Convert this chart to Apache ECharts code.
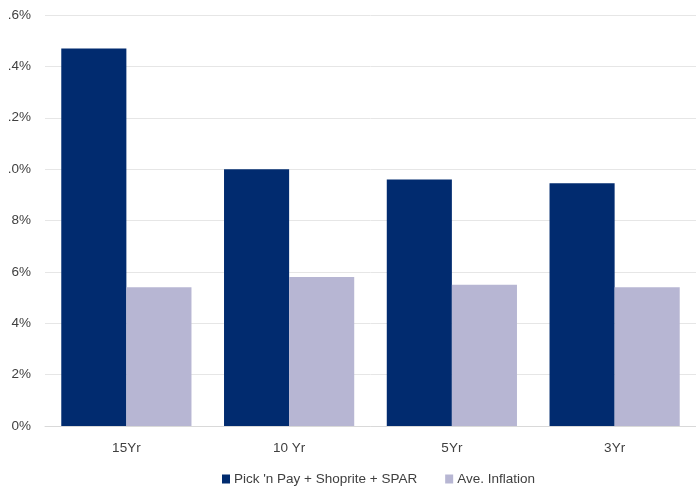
<!DOCTYPE html>
<html>
<head>
<meta charset="utf-8">
<script src="https://cdn.jsdelivr.net/npm/echarts@6/dist/echarts.min.js"></script>
<style>
  html, body { margin: 0; padding: 0; background: #fff; }
  #chart { width: 696px; height: 486px; }
</style>
</head>
<body>
<div id="chart"></div>
<script>
// data
var categories = ['15Yr', '10 Yr', '5Yr', '3Yr'];
var retailers = [14.7, 10.0, 9.6, 9.45];
var inflation = [5.4, 5.8, 5.5, 5.4];
// tick labels as they appear (left digit is cropped in the source)
var tickLabels = ['0%', '2%', '4%', '6%', '8%', '.0%', '.2%', '.4%', '.6%'];

var chart_element = document.getElementById('chart');
if (chart_element) {
    var chart = echarts.init(chart_element);
    chart.setOption({
        color: ['#012b6f', '#b7b6d3'],

        textStyle: {
            fontFamily: 'Liberation Sans, Arial, sans-serif',
            fontSize: 13.5,
            color: '#404040'
        },

        grid: {
            left: 45,
            width: 656,
            top: 15,
            bottom: 60
        },

        legend: {
            left: 217,
            top: 467,
            itemWidth: 8,
            itemHeight: 9,
            itemGap: 28,
            icon: 'rect',
            textStyle: {
                fontSize: 13.5,
                color: '#404040',
                padding: [0, 0, 0, -1]
            },
            data: ['Pick \'n Pay + Shoprite + SPAR', 'Ave. Inflation']
        },

        xAxis: {
            type: 'category',
            data: categories,
            axisLine: { lineStyle: { color: '#d9d9d9' } },
            axisTick: { length: 5, lineStyle: { color: '#d9d9d9' } },
            axisLabel: { margin: 15, color: '#404040', fontSize: 13.5 }
        },

        yAxis: {
            type: 'value',
            min: 0,
            max: 16,
            interval: 2,
            axisLine: { show: false },
            axisTick: { show: false },
            splitLine: { lineStyle: { color: '#e6e6e6' } },
            axisLabel: {
                margin: 14,
                color: '#404040',
                fontSize: 13.5,
                formatter: function (v) {
                    return tickLabels[Math.round(v / 2)];
                }
            }
        },

        series: [{
            name: 'Pick \'n Pay + Shoprite + SPAR',
            type: 'bar',
            data: retailers,
            barGap: '0%',
            barCategoryGap: '20%'
        }, {
            name: 'Ave. Inflation',
            type: 'bar',
            data: inflation,
            barGap: '0%',
            barCategoryGap: '20%'
        }]
    });
}
</script>
</body>
</html>
